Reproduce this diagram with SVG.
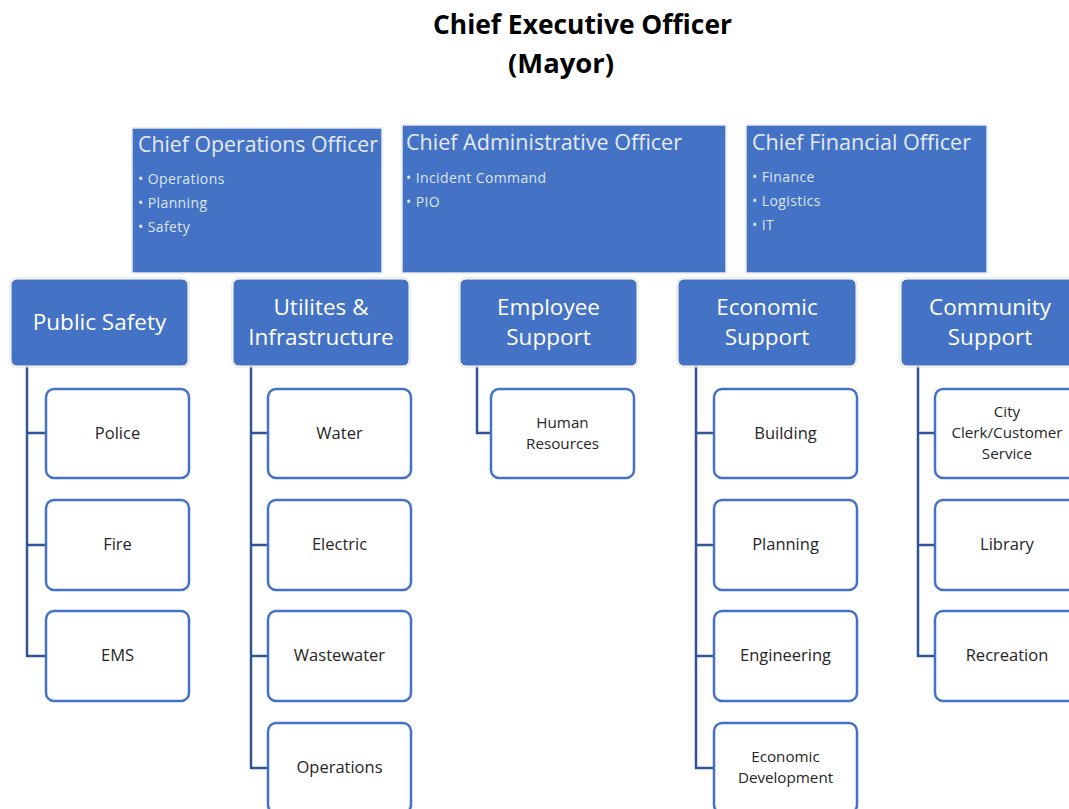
<svg xmlns="http://www.w3.org/2000/svg" width="1069" height="809" viewBox="0 0 1069 809">
<style>
.title{font-family:"Open Sans","Liberation Sans",sans-serif;font-weight:bold;font-size:26px;fill:#000}
.top{fill:#4472C4;stroke:#e6e9f0;stroke-width:1.5}
.toptitle{font-family:"Open Sans","Noto Sans",sans-serif;font-size:21px;fill:#e4eaf5}
.bullet{font-family:"Open Sans","Noto Sans",sans-serif;font-size:14px;fill:#dde5f3;letter-spacing:0.4px}
.l2{fill:#4472C4;stroke:#fff;stroke-width:1}
.l2s{fill:none;stroke:#d9d9d9;stroke-width:1}
.l2t{font-family:"Open Sans","Noto Sans",sans-serif;font-size:22.5px;fill:#fff;text-anchor:middle}
.child{fill:#fff;stroke:#4472C4;stroke-width:2.5}
.ct{font-family:"Open Sans","Noto Sans",sans-serif;font-size:16.5px;fill:#262626;text-anchor:middle}
.ct2{font-family:"Open Sans","Noto Sans",sans-serif;font-size:15.2px;fill:#262626;text-anchor:middle}
.conn{fill:none;stroke:#2F5597;stroke-width:2.5}
</style>
<rect width="1069" height="809" fill="#fff"/>

<g id="ceo">
<text class="title" x="433" y="34" textLength="299" lengthAdjust="spacingAndGlyphs">Chief Executive Officer</text>
<text class="title" x="508" y="73" textLength="106" lengthAdjust="spacingAndGlyphs">(Mayor)</text>
</g>

<g id="coo">
<rect class="top" x="132" y="128" width="250" height="145"/>
<text class="toptitle" x="138" y="152" textLength="240" lengthAdjust="spacingAndGlyphs">Chief Operations Officer</text>
<text class="bullet" x="138" y="184">• Operations</text>
<text class="bullet" x="138" y="208">• Planning</text>
<text class="bullet" x="138" y="232">• Safety</text>
</g>
<g id="cao">
<rect class="top" x="402" y="125" width="324" height="148"/>
<text class="toptitle" x="406" y="150" textLength="276" lengthAdjust="spacingAndGlyphs">Chief Administrative Officer</text>
<text class="bullet" x="406" y="183">• Incident Command</text>
<text class="bullet" x="406" y="207">• PIO</text>
</g>
<g id="cfo">
<rect class="top" x="746" y="125" width="241" height="148"/>
<text class="toptitle" x="752" y="150" textLength="219" lengthAdjust="spacingAndGlyphs">Chief Financial Officer</text>
<text class="bullet" x="752" y="182">• Finance</text>
<text class="bullet" x="752" y="206">• Logistics</text>
<text class="bullet" x="752" y="230">• IT</text>
</g>

<g id="connectors">
<path class="conn" d="M27,366 V656 H46 M27,433 H46 M27,545 H46"/>
<path class="conn" d="M251,366 V768 H268 M251,433 H268 M251,545 H268 M251,656 H268"/>
<path class="conn" d="M477,366 V433 H491"/>
<path class="conn" d="M696,366 V768 H714 M696,433 H714 M696,545 H714 M696,656 H714"/>
<path class="conn" d="M918,366 V656 H935 M918,433 H935 M918,545 H935"/>
</g>

<g id="public-safety">
<rect class="l2s" x="10" y="278" width="179" height="89" rx="7"/>
<rect class="l2" x="11" y="279" width="177" height="87" rx="6"/>
<text class="l2t" x="99.5" y="330">Public Safety</text>
</g>
<g id="utilities">
<rect class="l2s" x="232" y="278" width="178" height="89" rx="7"/>
<rect class="l2" x="233" y="279" width="176" height="87" rx="6"/>
<text class="l2t" x="321" y="314.5">Utilites &amp;</text>
<text class="l2t" x="321" y="345">Infrastructure</text>
</g>
<g id="employee-support">
<rect class="l2s" x="459" y="278" width="179" height="89" rx="7"/>
<rect class="l2" x="460" y="279" width="177" height="87" rx="6"/>
<text class="l2t" x="548.5" y="314.5">Employee</text>
<text class="l2t" x="548.5" y="345">Support</text>
</g>
<g id="economic-support">
<rect class="l2s" x="677" y="278" width="180" height="89" rx="7"/>
<rect class="l2" x="678" y="279" width="178" height="87" rx="6"/>
<text class="l2t" x="767" y="314.5">Economic</text>
<text class="l2t" x="767" y="345">Support</text>
</g>
<g id="community-support">
<rect class="l2s" x="900" y="278" width="180" height="89" rx="7"/>
<rect class="l2" x="901" y="279" width="178" height="87" rx="6"/>
<text class="l2t" x="990" y="314.5">Community</text>
<text class="l2t" x="990" y="345">Support</text>
</g>

<g id="police"><rect class="child" x="46" y="389" width="143" height="89" rx="8"/><text class="ct" x="117.5" y="439">Police</text></g>
<g id="fire"><rect class="child" x="46" y="500" width="143" height="90" rx="8"/><text class="ct" x="117.5" y="550">Fire</text></g>
<g id="ems"><rect class="child" x="46" y="611" width="143" height="90" rx="8"/><text class="ct" x="117.5" y="661">EMS</text></g>

<g id="water"><rect class="child" x="268" y="389" width="143" height="89" rx="8"/><text class="ct" x="339.5" y="439">Water</text></g>
<g id="electric"><rect class="child" x="268" y="500" width="143" height="90" rx="8"/><text class="ct" x="339.5" y="550">Electric</text></g>
<g id="wastewater"><rect class="child" x="268" y="611" width="143" height="90" rx="8"/><text class="ct" x="339.5" y="661">Wastewater</text></g>
<g id="operations"><rect class="child" x="268" y="723" width="143" height="90" rx="8"/><text class="ct" x="339.5" y="773">Operations</text></g>

<g id="human-resources"><rect class="child" x="491" y="389" width="143" height="89" rx="8"/><text class="ct2" x="562.5" y="427.5">Human</text><text class="ct2" x="562.5" y="448.5">Resources</text></g>

<g id="building"><rect class="child" x="714" y="389" width="143" height="89" rx="8"/><text class="ct" x="785.5" y="439">Building</text></g>
<g id="planning"><rect class="child" x="714" y="500" width="143" height="90" rx="8"/><text class="ct" x="785.5" y="550">Planning</text></g>
<g id="engineering"><rect class="child" x="714" y="611" width="143" height="90" rx="8"/><text class="ct" x="785.5" y="661">Engineering</text></g>
<g id="economic-development"><rect class="child" x="714" y="723" width="143" height="90" rx="8"/><text class="ct2" x="785.5" y="761.5">Economic</text><text class="ct2" x="785.5" y="782.5">Development</text></g>

<g id="city-clerk"><rect class="child" x="935" y="389" width="144" height="89" rx="8"/><text class="ct2" x="1007" y="417">City</text><text class="ct2" x="1007" y="438">Clerk/Customer</text><text class="ct2" x="1007" y="459">Service</text></g>
<g id="library"><rect class="child" x="935" y="500" width="144" height="90" rx="8"/><text class="ct" x="1007" y="550">Library</text></g>
<g id="recreation"><rect class="child" x="935" y="611" width="144" height="90" rx="8"/><text class="ct" x="1007" y="661">Recreation</text></g>
</svg>
